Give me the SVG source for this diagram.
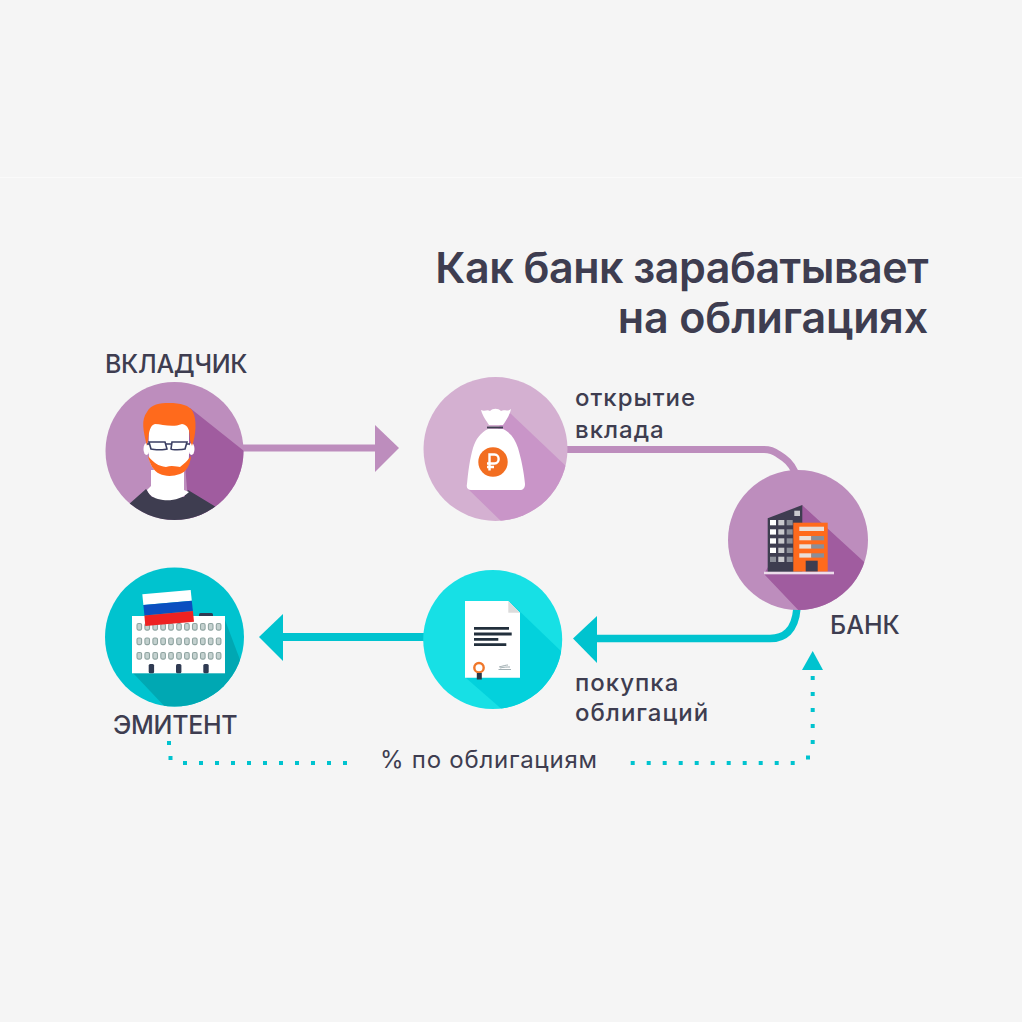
<svg xmlns="http://www.w3.org/2000/svg" xmlns:xlink="http://www.w3.org/1999/xlink" width="1022" height="1022" viewBox="0 0 1022 1022">
<style>
text{font-family:Inter,"Liberation Sans",sans-serif;fill:#3e3d50}
.title{font-size:43px;font-weight:600;text-anchor:end}
.cap{font-size:25px;font-weight:500;letter-spacing:-.3px}
.lab{font-size:24px;font-weight:500;letter-spacing:1px}
.pur{fill:none;stroke:#bd8dbd;stroke-width:7}
.cy{fill:none;stroke:#00c3cf;stroke-width:7.5}
.dot{fill:none;stroke:#00c3cf;stroke-width:4;stroke-dasharray:4 12}
.win{fill:#c5d2d0;stroke:#8fa4a1;stroke-width:1.100}
.door{fill:#2f3a52}
.ln{stroke:#222f3c;stroke-width:2.800}
</style>
<defs>
<clipPath id="c1"><circle cx="174.5" cy="451" r="69"/></clipPath>
<clipPath id="c2"><circle cx="495.5" cy="449" r="72"/></clipPath>
<clipPath id="c3"><circle cx="798" cy="540" r="70"/></clipPath>
<clipPath id="c4"><circle cx="492.7" cy="639.5" r="69.5"/></clipPath>
<clipPath id="c5"><circle cx="174.5" cy="637" r="69.5"/></clipPath>
<g id="winRow"><rect class="win" x="0" y="0" width="4.6" height="6.6" rx="1.5"/><rect class="win" x="7.9" y="0" width="4.6" height="6.6" rx="1.5"/><rect class="win" x="15.9" y="0" width="4.6" height="6.6" rx="1.5"/><rect class="win" x="23.8" y="0" width="4.6" height="6.6" rx="1.5"/><rect class="win" x="31.7" y="0" width="4.6" height="6.6" rx="1.5"/><rect class="win" x="39.7" y="0" width="4.6" height="6.6" rx="1.5"/><rect class="win" x="47.6" y="0" width="4.6" height="6.6" rx="1.5"/><rect class="win" x="55.5" y="0" width="4.6" height="6.6" rx="1.5"/><rect class="win" x="63.5" y="0" width="4.6" height="6.6" rx="1.5"/><rect class="win" x="71.4" y="0" width="4.6" height="6.6" rx="1.5"/><rect class="win" x="79.3" y="0" width="4.6" height="6.6" rx="1.5"/></g>
</defs>
<rect width="1022" height="1022" fill="#f5f5f5"/>
<rect y="177" width="1022" height="1" fill="#fafafa"/>
<text class="title" x="928" y="283" letter-spacing="-.5">Как банк зарабатывает</text>
<text class="title" x="928" y="333" letter-spacing="-.15">на облигациях</text>

<g id="connectors">
<path class="pur" d="M243 448H377"/><path d="M375 425L399 448L375 472Z" fill="#bd8dbd"/>
<path class="pur" d="M567 449.500H764C770 449.500 774 451 778 454C786 459 791 463 795 472"/>
<path class="cy" d="M797 608C796 620 793 627 788 632C784 636 779 638.500 770 638.500H595"/><path d="M573 638.500L597 616V663Z" fill="#00c3cf"/>
<path class="cy" style="stroke-width:8" d="M424 637H281"/><path d="M259 637L283 614V661Z" fill="#00c3cf"/>
<path class="dot" d="M169 741V745M170.500 756V760M183 763H347"/>
<path class="dot" d="M630.700 763H796M808 755.500V759.500M812.700 676V745"/>
<path d="M812.700 651L823 670H802Z" fill="#00c3cf"/>
</g>

<g id="investor">
<circle cx="174.500" cy="451" r="69" fill="#bd8dbd"/>
<g clip-path="url(#c1)">
<path d="M190 408L244 451V525H190L183 440Z" fill="#a05c9f"/>
<path d="M128 505L146 489L152 497L184 497L188 490L216 507V525H128Z" fill="#3e3d50"/>
<path d="M151 470H184V490L189 492C182 499 172 501 163 500C156 499 150 497 147 490L151 486Z" fill="#fff"/>
<path d="M149 424H189V455C189 468 180 476 169 476C158 476 149 468 149 455Z" fill="#fff"/>
<ellipse cx="146.500" cy="449" rx="3" ry="6" fill="#fff"/><ellipse cx="191.500" cy="449" rx="3" ry="6" fill="#fff"/>
<path d="M147 446C143 430 141 420 147 412C151 404 160 403 169 403C180 403 190 405 193 412C197 420 196 435 192 446L190 440C190 430 188 425 182 424C172 428 162 424 155 424C150 425 149 432 148 440Z" fill="#ff6a1c"/>
<path d="M148 456C154 463 158 466 166 467C172 465 178 467 180 467C184 464 188 460 191 456C190 466 186 472 180 474C172 477 164 476 160 474C153 471 150 464 148 456Z" fill="#ff6a1c"/>
<path d="M149 442H165L167 449C165 450 154 450 151 449ZM172 442H187L185 449C182 450 172 450 171 449Z" fill="#fff" stroke="#3b3f63" stroke-width="1.600"/>
<path d="M165 444H172M149 444H147M187 444H190" stroke="#3b3f63" stroke-width="1.600"/>
</g>
</g>

<g id="deposit">
<circle cx="495.500" cy="449" r="72" fill="#d4b0d1"/>
<g clip-path="url(#c2)">
<path d="M510 413L570 470V525H505L467 488L500 425Z" fill="#c995c8"/>
</g>
<path d="M481 410C485 412 487 409 490 411C493 408 498 408 501 411C504 409 507 412 511 409C509 417 506 420 503 425H489C486 420 483 417 481 410Z" fill="#fff"/>
<path d="M487 427.500H503" stroke="#3e3d50" stroke-width="1.800"/>
<path d="M488 429H503C511 433 515 439 518 448C521 458 524 472 525 484C525 488 523 490 520 490H471C468 490 466 488 467 484C468 472 470 458 473 448C476 439 480 433 488 429Z" fill="#fff"/>
<circle cx="493" cy="462" r="14.700" fill="#f26e21"/>
<path d="M489.500 470.500V454.500H494.500C500 454.500 500 463.500 494.500 463.500H487M487 467H494" fill="none" stroke="#fff" stroke-width="2.400"/>
</g>

<g id="bank">
<circle cx="798" cy="540" r="70" fill="#bd8dbd"/>
<g clip-path="url(#c3)"><path d="M802 505L875 572V615H803L764 574L795 520Z" fill="#a05c9f"/></g>
<path d="M767.700 518.300L802.300 505V572H767.700Z" fill="#3e3d50"/>
<g fill="#fff">
<rect x="770" y="520" width="6" height="5.300"/><rect x="770" y="529.300" width="6" height="5.300"/><rect x="770" y="538.300" width="6" height="5.300"/><rect x="770" y="547.700" width="6" height="5.300"/></g>
<g fill="#c9c9cd">
<rect x="778.300" y="520" width="6" height="5.300"/><rect x="778.300" y="529.300" width="6" height="5.300"/><rect x="778.300" y="538.300" width="6" height="5.300"/><rect x="778.300" y="547.700" width="6" height="5.300"/><rect x="778.300" y="556.700" width="6" height="5.300"/><rect x="794.300" y="510.700" width="5.700" height="5.300"/></g>
<g fill="#8b8e98">
<rect x="786.700" y="520" width="6" height="5.300"/><rect x="786.700" y="529.300" width="6" height="5.300"/><rect x="786.700" y="538.300" width="6" height="5.300"/><rect x="786.700" y="547.700" width="6" height="5.300"/><rect x="786.700" y="556.700" width="6" height="5.300"/><rect x="770" y="556.700" width="6" height="5.300"/></g>
<rect x="793.300" y="522.700" width="34.400" height="49" fill="#ff6a1c"/>
<g fill="#eadfd8"><rect x="799.300" y="526.700" width="24.700" height="4.300"/><rect x="799.300" y="536" width="12" height="4.300"/><rect x="799.300" y="544.300" width="12" height="4.300"/><rect x="799.300" y="553.300" width="12" height="4.300"/></g>
<g fill="#8b8e98"><rect x="811.300" y="536" width="12.700" height="4.300"/><rect x="811.300" y="544.300" width="12.700" height="4.300"/><rect x="811.300" y="553.300" width="12.700" height="4.300"/></g>
<rect x="805.700" y="560.700" width="12" height="11" fill="#3e3d50"/>
<rect x="764" y="571.700" width="70" height="2.600" fill="#ecdcea"/>
</g>

<g id="bond">
<circle cx="492.700" cy="639.500" r="69.500" fill="#17e0e5"/>
<g clip-path="url(#c4)"><path d="M510 602L566 656V712H505L466 678Z" fill="#03d1dc"/></g>
<path d="M465 601H508.300L520 612.700V677.700H465Z" fill="#fff"/>
<path d="M508.300 601L520 612.700H508.300Z" fill="#dcdcdc"/>
<path class="ln" d="M474 628.300H509M474 634H511.700M474 639.300H498.300M474 644.700H506.300"/>
<circle cx="479" cy="667.700" r="4.700" fill="#fff" stroke="#f0772a" stroke-width="2.400"/>
<path d="M476.800 673H481.800V679.500H476.800Z" fill="#2b3846"/>
<path d="M498.500 669.500H511M499 667C503 666 506 665 508 665M500 668C504 667 507 667 510 667" fill="none" stroke="#8a9aa0" stroke-width=".8"/>
</g>

<g id="issuer">
<circle cx="174.500" cy="637" r="69.500" fill="#00c3cf"/>
<g clip-path="url(#c5)"><path d="M225 620L242 665V710H168L133 673Z" fill="#00a8b3"/></g>
<rect x="199" y="613" width="14" height="4" rx="1.500" fill="#2f3a52"/>
<rect x="132" y="616" width="93" height="57.300" fill="#fff"/>
<use xlink:href="#winRow" href="#winRow" x="137" y="623.500"/>
<use xlink:href="#winRow" href="#winRow" x="137" y="638"/>
<use xlink:href="#winRow" href="#winRow" x="137" y="652.500"/>
<rect class="door" x="148.700" y="664" width="5.400" height="9.300" rx="1.500"/>
<rect class="door" x="176" y="664" width="5.400" height="9.300" rx="1.500"/>
<rect class="door" x="203.300" y="664" width="5.400" height="9.300" rx="1.500"/>
<path d="M142.300 594.300L190.700 590L191.800 600.700L143.400 605Z" fill="#fff"/>
<path d="M143.400 605L191.800 600.700L192.900 611L144.400 615.500Z" fill="#0c4fc0"/>
<path d="M144.400 615.500L192.900 611L194 621.700L145.300 626Z" fill="#ee2222"/>
</g>

<g id="labels">
<text class="cap" x="105" y="373">ВКЛАДЧИК</text>
<text class="lab" x="575" y="406">открытие</text>
<text class="lab" x="575" y="438">вклада</text>
<text class="cap" x="830" y="634" style="letter-spacing:0">БАНК</text>
<text class="lab" x="575" y="691">покупка</text>
<text class="lab" x="575" y="721">облигаций</text>
<text class="cap" x="113" y="734">ЭМИТЕНТ</text>
<text class="lab" x="380" y="768" style="font-weight:400;letter-spacing:.75px">% по облигациям</text>
</g>
</svg>
